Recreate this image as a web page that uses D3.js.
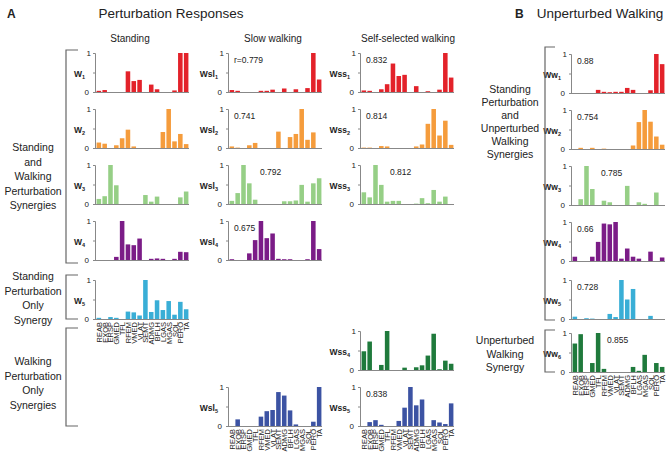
<!DOCTYPE html>
<html>
<head>
<meta charset="utf-8">
<script src="https://cdn.jsdelivr.net/npm/d3@7"></script>
<style>
  body { margin: 0; background: #fff; }
  svg text { font-family: "Liberation Sans", Arial, sans-serif; fill: #222; }
</style>
</head>
<body>
<div id="chart"></div>
<script>
// muscles (x categories)
const muscles = ["REAB","EXOB","ERSP","GMED","TFL","RFEM","VMED","VLAT","SEMT","ADMG","BFLH","LGAS","MGAS","SOL","PERO","TA"];

// standing synergies
const W1 = [0.03,0.05,0,0,0,0.53,0.28,0.31,0,0.19,0.07,0,0,0.04,1,1];
const W2 = [0.14,0.11,0,0.07,0.25,0.47,0.04,0,0,0,0,0.41,1,0.17,0.36,0.1];
const W3 = [0.13,0.2,1,0.48,0,0,0,0,0.23,0.06,0.19,0,0,0,0.17,0.32];
const W4 = [0,0,0,0.08,1,0.4,0.38,0.55,0,0.03,0.04,0.03,0,0.03,0.21,0.2];
const W5 = [0.03,0,0.05,0.03,0,0.19,0.17,0.09,1,0.18,0.48,0.23,0.46,0.11,0.44,0.25];
// slow walking
const Wsl1 = [0.05,0.03,0,0,0,0.03,0.03,0.06,0,0.09,0,0.07,0,0.1,1,0.32];
const Wsl2 = [0.04,0.01,0,0.07,0.13,0,0,0,0.42,0,0.28,0.36,1,0.21,0.4,0];
const Wsl3 = [0.08,0.28,1,0.53,0.11,0,0,0,0,0.07,0.07,0.09,0.49,0.06,0.53,0.66];
const Wsl4 = [0.02,0,0,0.17,0.51,1,0.56,0.68,0.03,0.02,0.02,0,0,0.02,1,0.28];
const Wsl5 = [0,0.17,0,0,0,0.24,0.38,0.41,0.87,0.78,0.4,0.04,0,0,0.11,1];
// self-selected walking
const Wss1 = [0.04,0.03,0,0.07,0.2,0.73,0.41,0.44,0,0.15,0,0.02,0,0.06,1,0.37];
const Wss2 = [0.01,0.01,0,0.05,0.04,0,0,0,0,0.04,0.09,0.62,1,0.32,0.7,0.08];
const Wss3 = [0.3,0.17,1,0.49,0.06,0.08,0.08,0,0,0.01,0.15,0.02,0.36,0.06,0.19,0];
const Wss4 = [0.48,0.73,0,0.13,1,0,0,0.06,0,0.07,0.12,0.37,0.93,0.02,0.24,0.16];
const Wss5 = [0,0.1,0.15,0.03,0,0,0.13,0.47,1,0.53,0.68,0,0.15,0.09,0.05,0.58];
// unperturbed walking
const Ww1 = [0,0,0,0,0.08,0.03,0.02,0.03,0.03,0.13,0.08,0,0,0.07,1,0.74];
const Ww2 = [0,0.03,0,0.03,0,0.01,0,0,0,0,0.09,0.69,1,0.7,0.32,0.11];
const Ww3 = [0,0.15,1,0.41,0,0.11,0.07,0,0,0.49,0,0.07,0.03,0,0.32,0];
const Ww4 = [0.11,0,0,0.11,0.49,0.96,0.94,1,0.06,0.32,0.11,0.06,0,0.24,0,0.09];
const Ww5 = [0.06,0,0.02,0.01,0,0,0.13,0.05,1,0.5,0.77,0,0,0.08,0,0];
const Ww6 = [0.73,0.97,0,0.23,1,0.08,0,0,0,0,0.13,0.03,0.44,0,0.23,0.13];

const colors = ["#e3222a","#f59c3c","#96cf86","#7b1c87","#39aed6","#1f7a3c","#3c53a3"];

var width = 669, height = 453;
var pw = 94, ph = 39;

const svg = d3.select("#chart").append("svg")
    .attr("width", width).attr("height", height);
svg.append("rect").attr("width", width).attr("height", height).attr("fill", "#fff");

// panels: axis x, top y, data, colour, label, subscript, r text, show muscle names
const panels = [
  [95, 53, W1, 0, "W", "1", null, false],
  [95, 109, W2, 1, "W", "2", null, false],
  [95, 165, W3, 2, "W", "3", null, false],
  [95, 221, W4, 3, "W", "4", null, false],
  [95, 280, W5, 4, "W", "5", null, true],
  [228, 53, Wsl1, 0, "Wsl", "1", "r=0.779", false],
  [228, 109, Wsl2, 1, "Wsl", "2", "0.741", false],
  [228, 165, Wsl3, 2, "Wsl", "3", "0.792", false],
  [228, 221, Wsl4, 3, "Wsl", "4", "0.675", false],
  [228, 387, Wsl5, 6, "Wsl", "5", null, true],
  [360, 53, Wss1, 0, "Wss", "1", "0.832", false],
  [360, 109, Wss2, 1, "Wss", "2", "0.814", false],
  [360, 165, Wss3, 2, "Wss", "3", "0.812", false],
  [360, 331, Wss4, 5, "Wss", "4", null, false],
  [360, 387, Wss5, 6, "Wss", "5", "0.838", true],
  [571, 54, Ww1, 0, "Ww", "1", "0.88", false],
  [571, 110, Ww2, 1, "Ww", "2", "0.754", false],
  [571, 166, Ww3, 2, "Ww", "3", "0.785", false],
  [571, 222, Ww4, 3, "Ww", "4", "0.66", false],
  [571, 280, Ww5, 4, "Ww", "5", "0.728", false],
  [571, 333, Ww6, 5, "Ww", "6", "0.855", true]
];

// r text offsets for panels where the label sits further right
const rShift = {"0.792": 26, "0.812": 24, "0.785": 24, "0.855": 30};

panels.forEach(function(p) {
  var ax = p[0], ty = p[1], vals = p[2];
  var g = svg.append("g").attr("transform", "translate(" + ax + "," + ty + ")");
  var xScale = d3.scaleBand().domain(muscles).range([1, pw]).paddingInner(0.22).paddingOuter(0.1);
  var yScale = d3.scaleLinear().domain([0, 1]).range([ph, 0]);

  g.selectAll("rect").data(vals).enter().append("rect")
    .attr("x", function(d, i) { return xScale(muscles[i]); })
    .attr("width", xScale.bandwidth())
    .attr("y", function(d) { return yScale(d); })
    .attr("height", function(d) { return ph - yScale(d); })
    .attr("fill", colors[p[3]]);

  var yAxis = g.append("g").call(d3.axisLeft(yScale).tickValues([0, 0.5, 1]).tickSize(2)
      .tickFormat(function(d) { return d == 0.5 ? "" : d; }));
  yAxis.select(".domain").attr("stroke", "#888");
  yAxis.selectAll(".tick line").attr("stroke", "#888");
  yAxis.selectAll("text").attr("font-size", 8).attr("fill", "#222").attr("x", -4)
    .attr("font-family", "Liberation Sans, Arial, sans-serif");
  yAxis.selectAll(".tick").filter(function(d) { return d == 0; }).select("text").attr("x", -6);

  g.append("line").attr("x1", 0).attr("x2", pw).attr("y1", ph + 0.5).attr("y2", ph + 0.5)
    .attr("stroke", "#888");

  // synergy label
  var lab = g.append("text").attr("x", -10).attr("y", ph / 2 + 4).attr("text-anchor", "end")
    .attr("font-size", 8.5).attr("font-weight", "bold");
  lab.append("tspan").text(p[4]);
  lab.append("tspan").text(p[5]).attr("font-size", 5.5).attr("dy", 2);

  if (p[6]) {
    g.append("text").attr("x", 6 + (rShift[p[6]] || 0)).attr("y", 10)
      .attr("font-size", 8.5).text(p[6]);
  }

  if (p[7]) {
    g.append("g").selectAll("text").data(muscles).enter().append("text")
      .attr("transform", function(d) {
        return "translate(" + (xScale(d) + xScale.bandwidth() / 2 + 3) + "," + (ph + 3) + ") rotate(-90)";
      })
      .attr("text-anchor", "end").attr("font-size", 7.5)
      .text(function(d) { return d; });
  }
});

// titles
svg.append("text").attr("x", 7).attr("y", 18).attr("font-size", 12).attr("font-weight", "bold").text("A");
svg.append("text").attr("x", 171).attr("y", 18).attr("font-size", 13.5).attr("text-anchor", "middle").text("Perturbation Responses");
svg.append("text").attr("x", 515).attr("y", 18).attr("font-size", 12).attr("font-weight", "bold").text("B");
svg.append("text").attr("x", 600).attr("y", 18).attr("font-size", 13.5).attr("text-anchor", "middle").text("Unperturbed Walking");

const colHeads = [["Standing", 130], ["Slow walking", 273], ["Self-selected walking", 408]];
colHeads.forEach(function(c) {
  svg.append("text").attr("x", c[1]).attr("y", 42).attr("font-size", 10).attr("text-anchor", "middle").text(c[0]);
});

// group labels
function multiLine(lines, cx, y0, lh) {
  var t = svg.append("text").attr("font-size", 10.5).attr("text-anchor", "middle");
  lines.forEach(function(l, i) {
    t.append("tspan").attr("x", cx).attr("y", y0 + i * lh).text(l);
  });
}
multiLine(["Standing", "and", "Walking", "Perturbation", "Synergies"], 33, 151, 14.5);
multiLine(["Standing", "Perturbation", "Only", "Synergy"], 33, 280, 14.5);
multiLine(["Walking", "Perturbation", "Only", "Synergies"], 33, 365, 14.5);
multiLine(["Standing", "Perturbation", "and", "Unperturbed", "Walking", "Synergies"], 510, 93, 13);
multiLine(["Unperturbed", "Walking", "Synergy"], 505, 344, 13.5);

// brackets
function bracket(x, y1, y2, len) {
  svg.append("path")
    .attr("d", "M" + (x + len) + "," + y1 + "H" + x + "V" + y2 + "H" + (x + len))
    .attr("fill", "none").attr("stroke", "#666").attr("stroke-width", 1.2);
}
bracket(66, 50, 263, 12);
bracket(66, 275, 319, 12);
bracket(66, 328, 426, 12);
bracket(545, 47, 320, 10);
bracket(545, 330, 372, 10);
</script>
</body>
</html>
